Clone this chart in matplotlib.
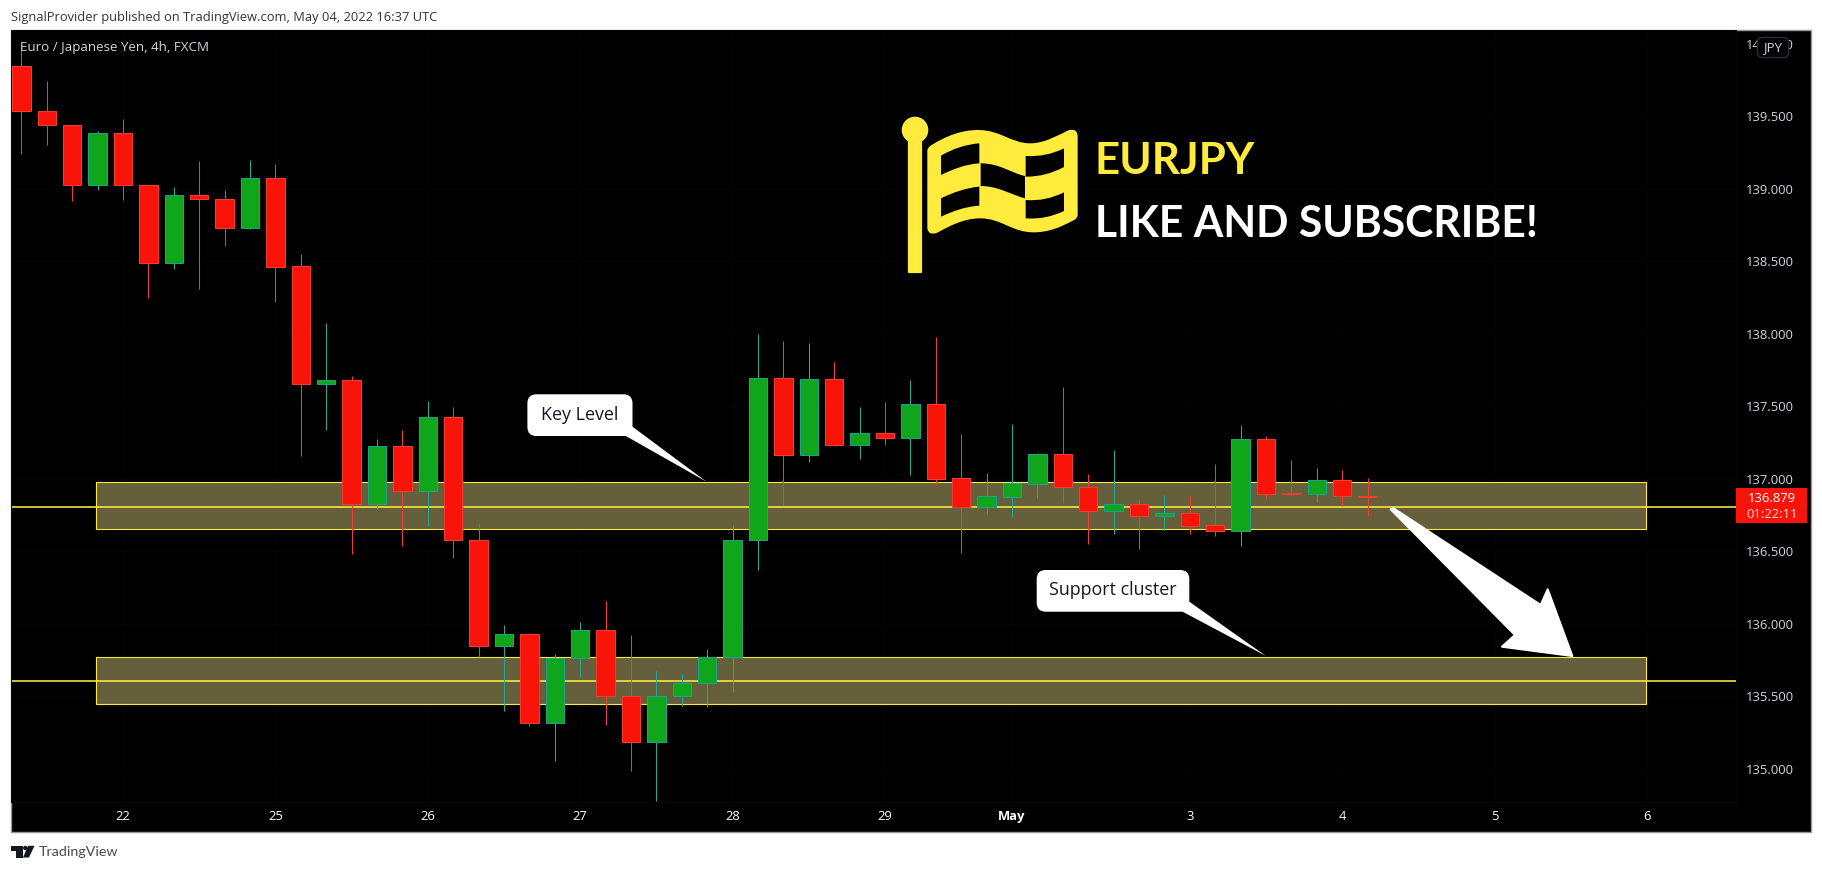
import matplotlib
matplotlib.use("Agg")
import matplotlib.pyplot as plt
from matplotlib.patches import Rectangle, PathPatch, Polygon, FancyBboxPatch, Circle
from matplotlib.path import Path
from matplotlib.transforms import Affine2D

W, H = 1822, 871
FONT = "Open Sans"
plt.rcParams["font.family"] = [FONT, "DejaVu Sans"]

opens = [139.85,139.54,139.44,139.025,139.384,139.025,138.49,138.956,138.93,138.733,139.074,138.467,137.657,137.68,136.825,137.225,136.915,137.425,136.577,135.846,135.929,135.315,135.763,135.957,135.5,135.184,135.5,135.59,135.77,136.577,137.694,137.168,137.688,137.237,137.315,137.285,137.515,137.005,136.809,136.878,136.968,137.17,136.943,136.781,136.826,136.747,136.763,136.68,136.643,137.274,136.903,136.899,136.991,136.885]
closes = [139.54,139.44,139.025,139.384,139.025,138.49,138.956,138.93,138.733,139.074,138.464,137.657,137.68,136.825,137.225,136.915,137.425,136.577,135.846,135.929,135.315,135.763,135.957,135.5,135.184,135.5,135.59,135.77,136.577,137.694,137.168,137.69,137.237,137.315,137.285,137.515,137.002,136.809,136.88,136.97,137.17,136.943,136.781,136.826,136.747,136.763,136.678,136.643,137.274,136.899,136.897,136.991,136.885,136.874]
highs = [139.98,139.745,139.44,139.40,139.483,139.025,139.014,139.193,138.993,139.2,139.172,138.552,138.076,137.71,137.276,137.338,137.538,137.497,136.694,135.993,135.938,135.79,136.014,136.159,135.924,135.676,135.655,135.828,136.683,138.0,137.952,137.938,137.807,137.497,137.531,137.683,137.979,137.31,137.041,137.379,137.177,137.634,137.034,137.2,136.862,136.89,136.89,137.103,137.372,137.297,137.131,137.076,137.062,137.007]
lows = [139.24,139.306,138.92,138.99,138.924,138.25,138.45,138.31,138.607,138.726,138.22,137.16,137.34,136.485,136.79,136.54,136.678,136.457,135.77,135.402,135.299,135.057,135.637,135.3,134.988,134.78,135.437,135.43,135.533,136.372,136.821,137.12,137.23,137.138,137.234,137.028,136.961,136.49,136.759,136.74,136.871,136.834,136.552,136.623,136.517,136.648,136.623,136.607,136.538,136.862,136.885,136.843,136.816,136.747]

x_tick_bars = [4,10,16,22,28,34,39,46,52,58,64]
x_tick_labels = ["22","25","26","27","28","29","May","3","4","5","6"]
y_tick_values = [135.0,135.5,136.0,136.5,137.0,137.5,138.0,138.5,139.0,139.5,140.0]
zones = [(136.657,136.977),(135.45,135.77)]
zone_bars = (2.95,63.97)
levels = [136.809,135.607]
last_price = "136.879"
countdown = "01:22:11"

RED, RED_W = "#F9140A", "#F23D30"
GREEN, GREEN_W, GREEN_E = "#10A61B", "#22AB94", "#1BA28A"
YELLOW = "#FFEB3B"
TXT = "#D1D4DC"

fig = plt.figure(figsize=(W/100, H/100), dpi=100, facecolor="white")
px = Affine2D().scale(1,-1).translate(0,H)

L, T, R, B, OR, OB = 11, 30, 1735.7, 801.7, 1810.5, 831.7
fig.add_artist(Rectangle((L,T),OR-L,OB-T,transform=px,fc="black",ec="#9598A1",lw=1.0,zorder=0))

ax = fig.add_axes([L/W,1-B/H,(R-L)/W,(B-T)/H],facecolor="black",zorder=1)
bar0, step = 21.4, 25.4
p0, k = 137.0, 145.0
ax.set_xlim((L-bar0)/step,(R-bar0)/step)
ax.set_ylim(p0+(479-B)/k,p0+(479-T)/k)
ax.yaxis.tick_right()
ax.set_xticks(x_tick_bars); ax.set_xticklabels(x_tick_labels)
ax.set_yticks(y_tick_values); ax.set_yticklabels([f"{v:.3f}" for v in y_tick_values])
ax.tick_params(axis="x",length=0,pad=6.2,labelsize=9.4,labelcolor="white")
ax.tick_params(axis="y",length=0,pad=7.6,labelsize=9.4,labelcolor=TXT)
for lab in ax.get_xticklabels():
    if lab.get_text()=="May": lab.set_fontweight("bold")
ax.grid(True,color="#050505",lw=0.7); ax.set_axisbelow(True)
for s in ax.spines.values(): s.set_color("#0a0a0a"); s.set_linewidth(0.7)

for lo,hi in zones:
    ax.add_patch(Rectangle((zone_bars[0],lo),zone_bars[1]-zone_bars[0],hi-lo,fc="#655F3C",ec=YELLOW,lw=0.8,zorder=2))
for v in levels:
    ax.axhline(v,color=YELLOW,lw=1.15,zorder=2.5)

xs = list(range(len(opens)))
for i,o,c,h,l in zip(xs,opens,closes,highs,lows):
    up = c>=o
    ax.vlines(i,l,h,color=GREEN_W if up else RED_W,lw=0.75,zorder=3)
    ax.bar(i,abs(c-o),bottom=min(o,c),width=0.72,color=GREEN if up else RED,edgecolor=GREEN_E if up else "#F23D30",linewidth=0.75,zorder=4)

def callout(box,tail,label,cx,cy):
    x0,y0,x1,y1 = box
    ax.add_patch(Polygon(tail,closed=True,transform=px,fc="white",ec="none",zorder=6,clip_on=False))
    ax.add_patch(FancyBboxPatch((x0+9,y0+9),x1-x0-18,y1-y0-18,boxstyle="round,pad=9,rounding_size=9",transform=px,fc="white",ec="none",zorder=6,clip_on=False))
    ax.text(cx,cy,label,transform=px,color="#131722",fontsize=12.9,ha="center",va="center",zorder=7)

callout((527.4,394.3,632.5,436),[(624,435),(632.5,426.7),(706.5,481.7)],"Key Level",580,414.5)
callout((1036.7,570,1189.3,611.7),[(1180.7,610.7),(1189.3,601.7),(1266,656)],"Support cluster",1112.7,590)

ax.add_patch(Polygon([(1390.7,509.3),(1393.5,508.3),(1540.7,605),(1547.7,589.3),(1572.3,656),(1502,646.7),(1515,635)],closed=True,transform=px,fc="white",ec="white",lw=1.5,joinstyle="round",zorder=6))

# flag emblem
def fp(*pts): return [(890+a/3,105+b/3) for a,b in pts]
def curve(start,*segs):
    v=fp(start); c=[Path.MOVETO]
    for s in segs:
        v+=fp(*s)
        c+=[Path.LINETO] if len(s)==1 else ([Path.CURVE3]*2 if len(s)==2 else [Path.CURVE4]*3)
    v.append(v[0]); c.append(Path.CLOSEPOLY)
    return Path(v,c)
ax.add_patch(Rectangle((909.2,125),11.6,146.8,transform=px,fc=YELLOW,ec=YELLOW,lw=1.6,joinstyle="round",zorder=5))
ax.add_patch(Circle((915,130),13.3,transform=px,fc=YELLOW,ec="none",zorder=5))
outer=curve((112,135),[(115,125),(125,120)],[(170,92),(215,75),(265,75)],[(330,75),(365,115),(420,115)],[(465,115),(505,90),(535,76)],[(563,68),(563,95)],[(563,330)],[(563,340),(552,345)],[(510,368),(475,382),(430,382)],[(365,382),(335,340),(270,340)],[(220,340),(175,365),(140,384)],[(115,392),(112,370)])
ax.add_patch(PathPatch(outer,transform=px,fc=YELLOW,ec="none",zorder=5))
holes=[
 curve((153,152),[(190,130),(230,118),(268,115)],[(268,175)],[(225,178),(190,192),(153,210)]),
 curve((407,153),[(450,155),(485,148),(522,130)],[(522,186)],[(485,205),(450,215),(407,215)]),
 curve((272,175),[(330,175),(365,205),(405,213)],[(405,280)],[(365,270),(325,243),(272,243)]),
 curve((153,280),[(190,262),(230,248),(268,245)],[(268,302)],[(225,305),(190,318),(153,335)]),
 curve((407,285),[(450,288),(485,280),(522,262)],[(522,318)],[(485,335),(450,343),(407,340)]),
]
for h in holes:
    ax.add_patch(PathPatch(h,transform=px,fc="black",ec="none",zorder=5.5))

ax.text(1095,174,"EURJPY",transform=px,color=YELLOW,fontsize=31.6,fontweight="bold",fontfamily="Lato",ha="left",va="baseline",zorder=6)
ax.text(1095,236.7,"LIKE AND SUBSCRIBE!",transform=px,color="white",fontsize=30.7,fontweight="bold",fontfamily="Lato",ha="left",va="baseline",zorder=6)
ax.text(20,47,"Euro / Japanese Yen, 4h, FXCM",transform=px,color=TXT,fontsize=9.6,ha="left",va="center",zorder=8)

# right-hand overlays
fig.add_artist(Rectangle((R,488.3),1807-R,34.4,transform=px,fc="#F9140A",ec="none",zorder=5))
fig.text(1771.7,498.3,last_price,transform=px,color="white",fontsize=9.4,ha="center",va="center",zorder=6)
fig.text(1771.7,514.3,countdown,transform=px,color="#FDD0CE",fontsize=9.4,ha="center",va="center",zorder=6)
fig.add_artist(FancyBboxPatch((1763,43),20,9,boxstyle="round,pad=5.5,rounding_size=5",transform=px,fc="black",ec="#2A2E39",lw=1,zorder=5))
fig.text(1773,47.5,"JPY",transform=px,color=TXT,fontsize=9.6,ha="center",va="center",zorder=6)

# page furniture
fig.text(10.7,17.3,"SignalProvider published on TradingView.com, May 04, 2022 16:37 UTC",transform=px,color="#333333",fontsize=9.25,ha="left",va="center")
fig.add_artist(Polygon([(11,845.8),(22.5,845.8),(22.5,857.5),(16,857.5),(16,850.5),(11,850.5)],closed=True,transform=px,fc="#131722",ec="none"))
fig.add_artist(Circle((25.3,848),2.2,transform=px,fc="#131722",ec="none"))
fig.add_artist(Polygon([(28,845.8),(34.5,845.8),(29,857.5),(23,857.5)],closed=True,transform=px,fc="#131722",ec="none"))
fig.text(38.3,851.7,"TradingView",transform=px,color="#4A4A4A",fontsize=10.3,ha="left",va="center",fontfamily="Lato")

fig.savefig("out.png",dpi=100,facecolor="white")
